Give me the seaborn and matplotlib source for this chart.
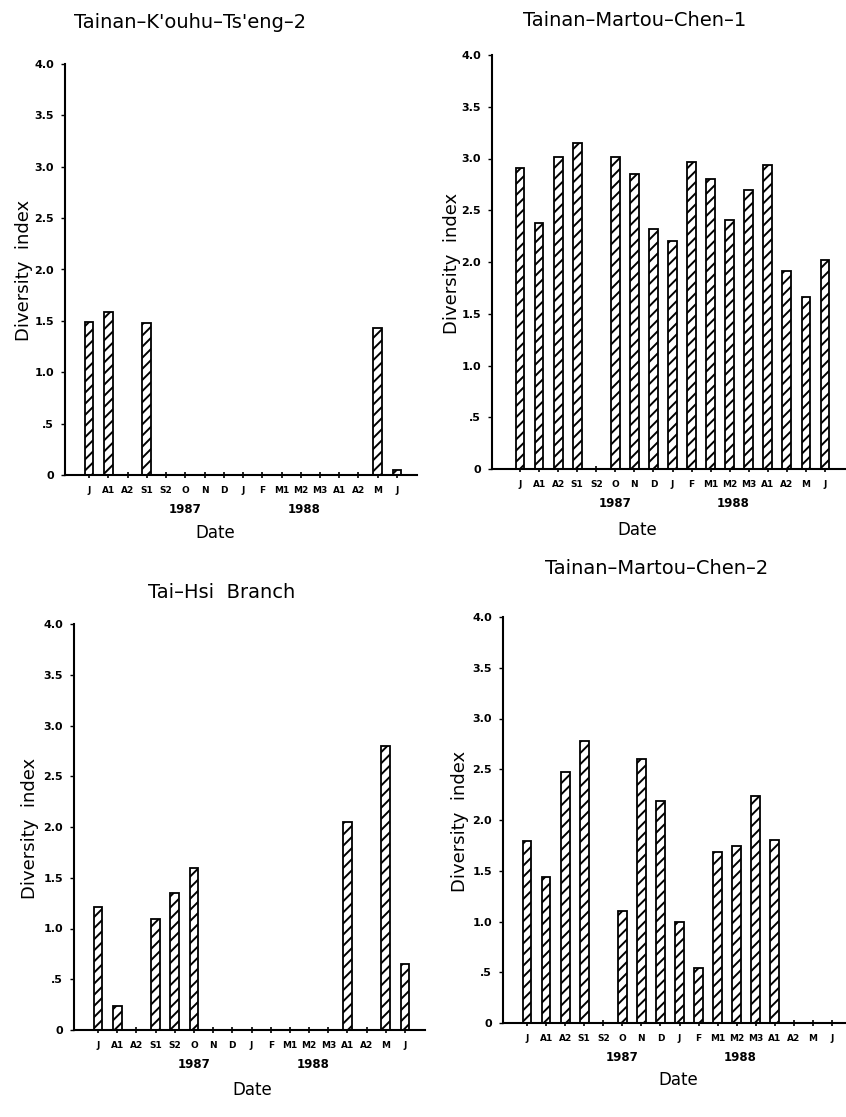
import numpy as np
import pandas as pd
import matplotlib
matplotlib.use("Agg")
import matplotlib.pyplot as plt
import seaborn as sns

# ---------------- data ----------------
months = ["J", "A1", "A2", "S1", "S2", "O", "N", "D", "J", "F",
          "M1", "M2", "M3", "A1", "A2", "M", "J"]
years = ["1987", "1988"]
year_pos = [5.0, 11.2]

titles = ["Tainan\u2013K'ouhu\u2013Ts'eng\u20132", "Tainan\u2013Martou\u2013Chen\u20131",
          "Tai\u2013Hsi  Branch", "Tainan\u2013Martou\u2013Chen\u20132"]

kouhu_tseng_2 = [1.49, 1.59, 0, 1.48, 0, 0, 0, 0, 0, 0, 0, 0, 0, 0, 0, 1.43, 0.05]
martou_chen_1 = [2.91, 2.38, 3.01, 3.15, 0, 3.01, 2.85, 2.32, 2.20, 2.97,
                 2.80, 2.41, 2.70, 2.94, 1.91, 1.66, 2.02]
tai_hsi = [1.21, 0.24, 0, 1.09, 1.35, 1.60, 0, 0, 0, 0, 0, 0, 0, 2.05, 0, 2.80, 0.65]
martou_chen_2 = [1.79, 1.44, 2.47, 2.78, 0, 1.10, 2.60, 2.19, 1.00, 0.54,
                 1.68, 1.74, 2.24, 1.80, 0, 0, 0]

yticks = [0, 0.5, 1.0, 1.5, 2.0, 2.5, 3.0, 3.5, 4.0]
ytick_labels = ["0", ".5", "1.0", "1.5", "2.0", "2.5", "3.0", "3.5", "4.0"]

series = [kouhu_tseng_2, martou_chen_1, tai_hsi, martou_chen_2]

# ---------------- layout ----------------
W, H = 846, 1117
sns.set_style("ticks")
plt.rcParams["font.family"] = ["DejaVu Sans"]
plt.rcParams["hatch.linewidth"] = 1.4
for k in ["text.color", "axes.edgecolor", "xtick.color", "ytick.color", "axes.labelcolor"]:
    plt.rcParams[k] = "black"

fig = plt.figure(figsize=(W / 100, H / 100), dpi=100)

# axes boxes in pixels: left, right, top, bottom
boxes = [(65, 417, 64, 475), (492, 845, 55, 469),
         (74, 425, 624, 1030), (503, 846, 617, 1023)]
xlims = [(-1.25, 17.04), (-1.47, 17.05), (-1.25, 17.04), (-1.26, 16.73)]
title_xy = [(190, 22), (635, 20), (222, 592), (657, 569)]
ylab_xy = [(24, 270), (452, 263), (30, 828), (460, 821)]
date_xy = [(215, 533), (637, 530), (252, 1090), (678, 1080)]

for i, vals in enumerate(series):
    l, r, t, b = boxes[i]
    ax = fig.add_axes([l / W, 1 - b / H, (r - l) / W, (b - t) / H])
    df = pd.DataFrame({"pos": np.arange(len(months)), "value": vals})
    sns.barplot(data=df, x="pos", y="value", ax=ax, native_scale=True,
                color="white", edgecolor="black", linewidth=1.3,
                width=0.46, errorbar=None, saturation=1)
    for p in ax.patches:
        p.set_hatch("///")
        p.set_facecolor("white")
        p.set_edgecolor("black")
    ax.set_xlim(*xlims[i])
    ax.set_ylim(0, 4.0)
    ax.set_xlabel("")
    ax.set_ylabel("")
    sns.despine(ax=ax)
    for s in ["left", "bottom"]:
        ax.spines[s].set_linewidth(1.5)
    ax.set_yticks(yticks)
    ax.set_yticklabels(ytick_labels, fontsize=8, fontweight="bold")
    ax.set_xticks(np.arange(len(months)))
    ax.set_xticklabels(months, fontsize=6.5, fontweight="bold")
    ax.tick_params(axis="x", direction="inout", length=4, width=1.2, pad=6)
    ax.tick_params(axis="y", direction="out", length=3, width=1.0, pad=5)
    for yr, yp in zip(years, year_pos):
        ax.annotate(yr, xy=(yp, 0), xycoords=("data", "axes fraction"),
                    xytext=(0, -25), textcoords="offset points",
                    ha="center", va="center", fontsize=8.5, fontweight="bold")
    tx, ty = title_xy[i]
    fig.text(tx / W, 1 - ty / H, titles[i], ha="center", va="center", fontsize=14)
    lx, ly = ylab_xy[i]
    fig.text(lx / W, 1 - ly / H, "Diversity  index", ha="center", va="center",
             rotation=90, fontsize=13)
    dx, dy = date_xy[i]
    fig.text(dx / W, 1 - dy / H, "Date", ha="center", va="center", fontsize=12)

fig.savefig("out.png", dpi=100, facecolor="white")
